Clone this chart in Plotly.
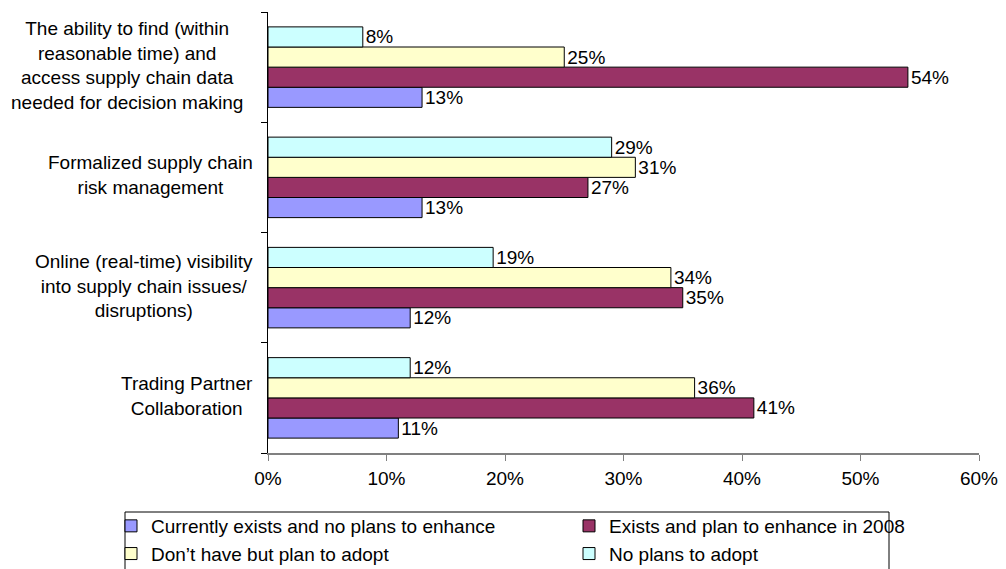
import plotly.graph_objects as go

categories = [
    "The ability to find (within<br>reasonable time) and<br>access supply chain data<br>needed for decision making",
    "Formalized supply chain<br>risk management",
    "Online (real-time) visibility<br>into supply chain issues/<br>disruptions)",
    "Trading Partner<br>Collaboration",
]
series_names = [
    "Currently exists and no plans to enhance",
    "Exists and plan to enhance in 2008",
    "Don\u2019t have but plan to adopt",
    "No plans to adopt",
]
currently_exists = [13, 13, 12, 11]
exists_enhance_2008 = [54, 27, 35, 41]
dont_have_plan = [25, 31, 34, 36]
no_plans = [8, 29, 19, 12]
x_ticks = [0, 10, 20, 30, 40, 50, 60]
x_tick_labels = ["0%", "10%", "20%", "30%", "40%", "50%", "60%"]

colors = ["#9999FF", "#993366", "#FFFFCC", "#CCFFFF"]
series_values = [currently_exists, exists_enhance_2008, dont_have_plan, no_plans]

FONT = "Arial, Liberation Sans, sans-serif"
# The page body has an 8px margin, so the figure is drawn 8px lower/right.
OFF = 8
W, H = 1006 - 2 * OFF, 569 - OFF
ML, MT, MB = 268 - OFF, 12 - OFF, 116
MR = W - (979 - OFF)
PW, PH = W - ML - MR, H - MT - MB


def px_to_paper_x(px):
    return (px - OFF - ML) / PW


def px_to_paper_y(py):
    return (H - MB - (py - OFF)) / PH


fig = go.Figure()
for name, vals, col in zip(series_names, series_values, colors):
    fig.add_trace(go.Bar(
        y=categories, x=vals, name=name, orientation="h",
        marker=dict(color=col, line=dict(color="#000000", width=1)),
        text=[f"{v}%" for v in vals], textposition="outside",
        textfont=dict(family=FONT, size=19, color="#000000"),
        constraintext="none", cliponaxis=False,
    ))

for i, c in enumerate(categories):
    fig.add_annotation(
        x=0, xref="paper", y=c, yref="y", text=c, showarrow=False,
        xanchor="right", align="center", xshift=-23 if i == 0 else -13,
        yshift=2,
        font=dict(family=FONT, size=19, color="#000000"),
    )

# legend frame
fig.add_shape(
    type="rect", xref="paper", yref="paper",
    x0=px_to_paper_x(125), x1=px_to_paper_x(889),
    y0=px_to_paper_y(580), y1=px_to_paper_y(512),
    line=dict(color="#000000", width=1), fillcolor="rgba(0,0,0,0)",
    layer="above",
)

fig.update_layout(
    width=W, height=H,
    margin=dict(l=ML, r=MR, t=MT, b=MB, autoexpand=False),
    paper_bgcolor="white", plot_bgcolor="white",
    barmode="group", bargap=0.27, bargroupgap=0,
    font=dict(family=FONT, size=19, color="#000000"),
    showlegend=True,
    legend=dict(
        orientation="h", x=px_to_paper_x(111), xanchor="left",
        y=px_to_paper_y(507), yanchor="top",
        borderwidth=0, bgcolor="rgba(0,0,0,0)",
        font=dict(family=FONT, size=19, color="#000000"),
        entrywidth=413, entrywidthmode="pixels", traceorder="normal",
    ),
    xaxis=dict(
        range=[0, 60], tickvals=x_ticks, ticktext=x_tick_labels,
        showgrid=False, zeroline=False,
        showline=True, linecolor="#808080", linewidth=1.5,
        ticks="outside", ticklen=6, tickcolor="#808080",
        ticklabelstandoff=1, ticklabeloverflow="allow",
        tickfont=dict(family=FONT, size=19, color="#000000"),
    ),
    yaxis=dict(
        categoryorder="array", categoryarray=categories[::-1],
        showticklabels=False, showgrid=False, zeroline=False,
        showline=True, linecolor="#000000", linewidth=1,
        ticks="outside", ticklen=6, tickcolor="#000000",
        tickson="boundaries",
    ),
)

fig.write_html("out.html")
